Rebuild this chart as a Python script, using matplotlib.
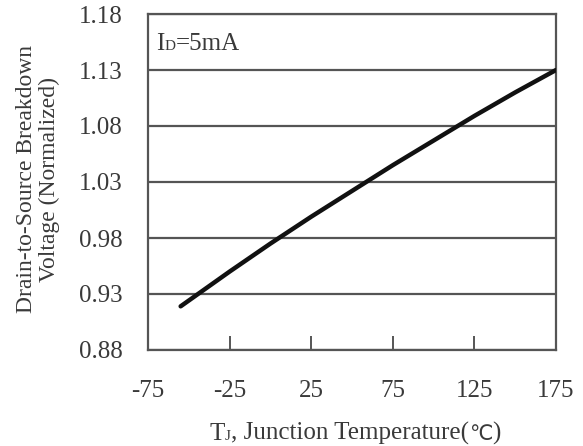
import matplotlib
matplotlib.use("Agg")
import matplotlib.pyplot as plt

plt.rcParams['font.family'] = ['Liberation Serif', 'DejaVu Sans']

temps = [-55, -25, 0, 25, 50, 75, 100, 125, 150, 175]
bvdss = [0.919, 0.950, 0.975, 0.999, 1.022, 1.045, 1.067, 1.089, 1.110, 1.130]
xticks = [-75, -25, 25, 75, 125, 175]
yticks = [0.88, 0.93, 0.98, 1.03, 1.08, 1.13, 1.18]

W, H = 583, 446
fig = plt.figure(figsize=(W / 100, H / 100), dpi=100)
ax = fig.add_axes([148 / W, 1 - 350 / H, (556 - 148) / W, (350 - 14) / H])

txt = '#3a3a3a'
for yv in yticks:
    ax.axhline(yv, color='#555555', lw=1.6, zorder=1)
ax.plot(temps, bvdss, color='#111111', lw=3.2, solid_capstyle='round',
        solid_joinstyle='round', zorder=3)

ax.set_xlim(-75, 175)
ax.set_ylim(0.88, 1.18)
ax.set_xticks(xticks)
ax.set_xticklabels([str(v) for v in xticks])
ax.set_yticks(yticks)
ax.set_yticklabels([f'{v:.2f}' for v in yticks])
ax.tick_params(axis='x', direction='in', length=10, width=1.4, color='#555555',
               labelsize=18, labelcolor=txt, pad=21.5)
ax.tick_params(axis='y', length=0, labelsize=18, labelcolor=txt, pad=18.5)
for s in ax.spines.values():
    s.set_color('#555555')
    s.set_linewidth(1.6)

renderer = fig.canvas.get_renderer()


def draw_pieces(x_px, y_base_from_top, pieces, align='left'):
    """pieces: list of (text, fontsize); drawn in pixel coords on one baseline."""
    objs = []
    for s, size in pieces:
        t = fig.text(0, 0, s, fontsize=size, color=txt, ha='left', va='baseline',
                     transform=None)
        objs.append(t)
    widths = [t.get_window_extent(renderer).width for t in objs]
    total = sum(widths)
    x = x_px - (total / 2 if align == 'center' else 0)
    yb = H - y_base_from_top
    for t, w in zip(objs, widths):
        t.set_position((x, yb))
        x += w


draw_pieces(156, 50, [('I', 18), ('D', 11), ('=5mA', 18)])
draw_pieces(355, 440, [('T', 18), ('J', 11), (', Junction Temperature(', 18),
                       ('℃', 15), (')', 18)], align='center')

fig.text(38 / W, 1 - 179 / H, 'Drain-to-Source Breakdown\nVoltage (Normalized)', rotation=90,
         ha='center', va='center', fontsize=17, color=txt, linespacing=1.15,
         multialignment='center')

fig.savefig('out.png', dpi=100)
